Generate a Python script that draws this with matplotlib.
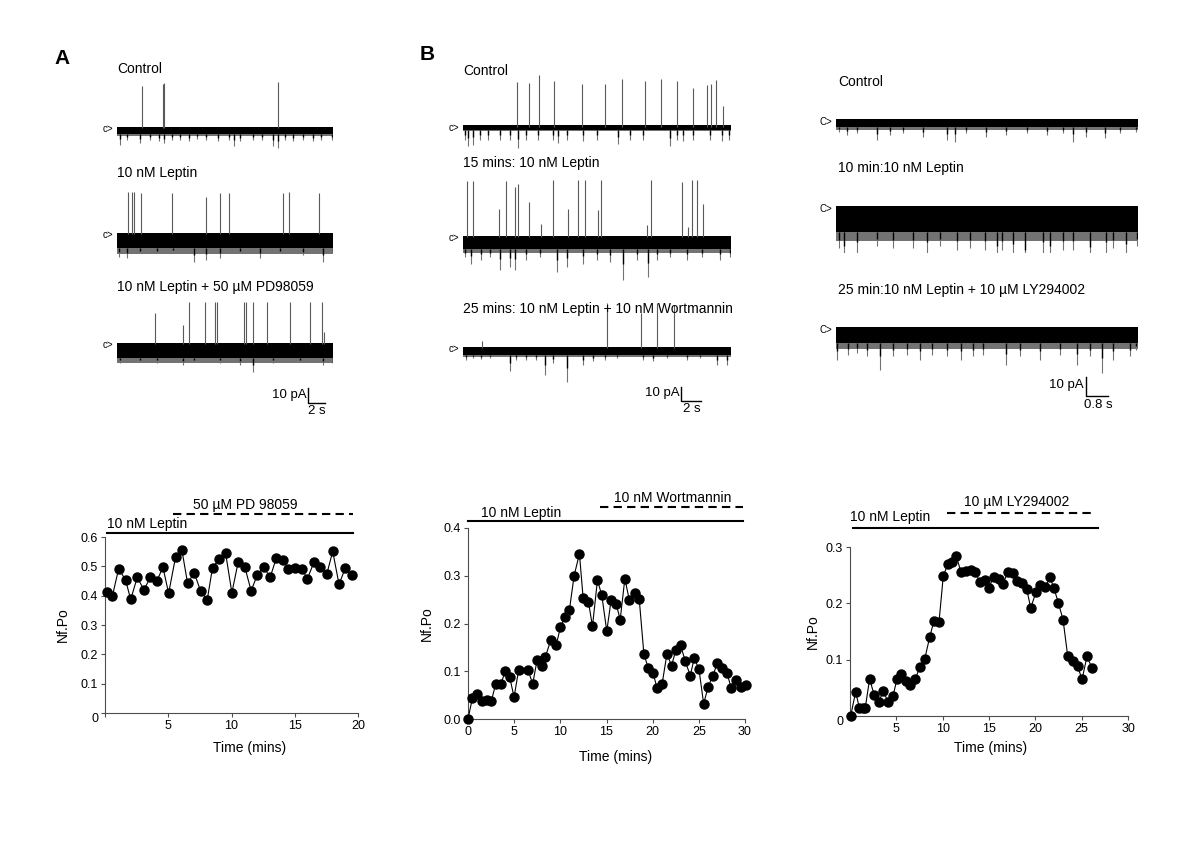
import matplotlib
matplotlib.use("Agg")
import matplotlib.pyplot as plt

plt.rcParams['font.family'] = ['Liberation Sans', 'DejaVu Sans']

W, H = 1200, 849

# ---------------- Nf.Po time courses ----------------
pd_time = [0.13, 0.58, 1.08, 1.63, 2.03, 2.55, 3.08, 3.58, 4.10, 4.58, 5.03, 5.58, 6.08, 6.53,
           7.05, 7.55, 8.08, 8.50, 9.03, 9.53, 10.03, 10.53, 11.05, 11.55, 12.03, 12.53, 13.05,
           13.55, 14.05, 14.50, 15.00, 15.55, 16.00, 16.53, 17.03, 17.53, 18.00, 18.50, 19.00, 19.53]
pd_nfpo = [0.413, 0.398, 0.492, 0.453, 0.387, 0.462, 0.420, 0.462, 0.450, 0.497, 0.408, 0.532,
           0.555, 0.442, 0.478, 0.417, 0.385, 0.496, 0.524, 0.546, 0.410, 0.515, 0.498, 0.417,
           0.469, 0.499, 0.462, 0.529, 0.521, 0.491, 0.495, 0.491, 0.458, 0.515, 0.499, 0.473,
           0.551, 0.439, 0.494, 0.469]

wort_time = [0.0, 0.47, 1.01, 1.52, 2.02, 2.53, 3.00, 3.54, 4.05, 4.52, 4.99, 5.49, 6.50, 7.01,
             7.48, 8.02, 8.38, 8.96, 9.54, 10.01, 10.48, 10.99, 11.49, 12.07, 12.47, 13.05, 13.48,
             14.02, 14.49, 15.03, 15.50, 16.05, 16.48, 16.99, 17.46, 18.07, 18.54, 19.05, 19.52,
             20.06, 20.46, 21.03, 21.54, 22.05, 22.52, 23.02, 23.53, 24.07, 24.50, 25.01, 25.52,
             26.02, 26.53, 27.00, 27.50, 28.05, 28.52, 29.02, 29.53, 30.07]
wort_nfpo = [0.0, 0.043, 0.053, 0.038, 0.040, 0.038, 0.073, 0.073, 0.100, 0.087, 0.046, 0.103,
             0.102, 0.074, 0.123, 0.112, 0.130, 0.165, 0.154, 0.192, 0.213, 0.229, 0.300, 0.346,
             0.253, 0.245, 0.194, 0.291, 0.259, 0.184, 0.249, 0.241, 0.208, 0.294, 0.250, 0.264,
             0.252, 0.136, 0.107, 0.096, 0.065, 0.074, 0.136, 0.112, 0.145, 0.155, 0.121, 0.091,
             0.127, 0.105, 0.032, 0.068, 0.091, 0.117, 0.106, 0.096, 0.064, 0.082, 0.068, 0.072]

ly_time = [0.07, 0.61, 1.00, 1.40, 1.65, 2.12, 2.59, 3.09, 3.60, 4.14, 4.64, 5.07, 5.54, 6.01,
           6.51, 7.05, 7.55, 8.06, 8.60, 9.06, 9.60, 10.07, 10.58, 11.04, 11.47, 11.98, 12.55,
           13.09, 13.53, 14.00, 14.60, 15.00, 15.50, 16.04, 16.51, 17.05, 17.55, 18.02, 18.56,
           19.06, 19.50, 20.10, 20.54, 21.08, 21.58, 22.01, 22.48, 22.99, 23.49, 24.03, 24.57,
           25.04, 25.58, 26.08]
ly_nfpo = [0.0, 0.043, 0.015, 0.015, 0.015, 0.066, 0.038, 0.025, 0.044, 0.024, 0.035, 0.066,
           0.074, 0.063, 0.055, 0.066, 0.087, 0.101, 0.140, 0.169, 0.166, 0.249, 0.270, 0.274,
           0.284, 0.255, 0.258, 0.259, 0.255, 0.238, 0.241, 0.228, 0.247, 0.243, 0.235, 0.256,
           0.254, 0.240, 0.236, 0.226, 0.192, 0.221, 0.233, 0.229, 0.246, 0.227, 0.201, 0.171,
           0.107, 0.097, 0.088, 0.065, 0.106, 0.086]

# ---------------- single channel traces (s, pA) ----------------
# panel A, 25.35 s sweeps
a_ctrl_up_t = [2.9, 5.4, 5.5, 18.9]
a_ctrl_up_a = [27.8, 29.3, 30.0, 30.7]
a_ctrl_dn_t = [0.3, 1.2, 2.7, 3.9, 4.9, 5.5, 6.4, 7.4, 8.4, 9.4, 10.5, 11.9, 13.1, 13.7, 14.4,
               16.0, 17.0, 18.3, 18.9, 19.7, 20.7, 21.8, 23.0, 24.0, 25.2]
a_ctrl_dn_a = [-11.1, -7.8, -10.0, -7.8, -8.9, -10.0, -7.8, -7.8, -8.9, -7.3, -7.8, -8.9, -7.8,
               -11.8, -8.9, -7.8, -7.8, -11.8, -13.3, -7.8, -8.9, -7.8, -8.9, -7.8, -7.8]
a_ctrl_band = (0.7, -4.0)

a_lep_up_t = [1.3, 1.8, 2.0, 2.8, 6.4, 10.5, 12.1, 13.2, 19.5, 20.2, 23.7]
a_lep_up_a = [28.2, 28.2, 28.2, 27.1, 27.5, 24.9, 27.5, 27.5, 27.5, 28.2, 27.5]
a_lep_dn_t = [0.2, 1.2, 2.7, 4.7, 6.6, 9.0, 10.5, 12.1, 14.4, 16.8, 19.1, 21.8, 24.2, 25.3]
a_lep_dn_a = [-15.1, -16.2, -12.9, -12.9, -11.8, -18.4, -17.3, -16.2, -12.9, -16.2, -12.9,
              -14.0, -18.4, -12.9]
a_lep_band = (0.9, -9.5)

a_pd_up_t = [4.5, 7.7, 8.4, 10.3, 11.5, 11.7, 14.9, 15.1, 16.0, 17.6, 20.3, 22.6, 24.1, 24.3]
a_pd_up_a = [20.4, 12.7, 28.2, 28.2, 28.2, 28.2, 28.2, 28.2, 28.2, 28.2, 28.2, 28.2, 28.2, 8.2]
a_pd_dn_t = [0.4, 2.7, 4.7, 7.8, 9.0, 12.1, 14.4, 16.0, 18.3, 21.5, 24.2, 25.3]
a_pd_dn_a = [-12.9, -11.8, -12.9, -14.0, -11.8, -12.4, -14.0, -18.4, -12.9, -11.8, -14.0, -16.2]
a_pd_band = (0.4, -9.0)

# panel B, 26.8 s sweeps (wortmannin)
b_ctrl_up_t = [5.4, 6.6, 7.6, 9.1, 11.9, 14.2, 15.9, 18.2, 19.8, 21.4, 23.0, 24.4, 24.8, 25.3, 26.0]
b_ctrl_up_a = [32.1, 31.4, 37.4, 32.6, 30.7, 30.7, 34.3, 32.6, 34.3, 32.6, 27.8, 30.2, 30.7,
               33.8, 14.8]
b_ctrl_dn_t = [0.2, 0.5, 1.0, 1.7, 2.5, 3.7, 4.7, 5.5, 6.3, 7.5, 9.0, 9.5, 10.4, 12.0, 13.4,
               15.5, 16.7, 18.0, 20.7, 21.4, 22.0, 23.0, 24.7, 25.9, 26.6]
b_ctrl_dn_a = [-9.0, -13.8, -12.6, -9.0, -9.0, -9.0, -9.0, -15.0, -9.0, -9.0, -9.0, -11.4,
               -9.0, -10.2, -9.0, -11.9, -9.0, -9.0, -13.8, -9.0, -10.2, -9.0, -9.0, -10.2, -9.0]
b_ctrl_band = (1.2, -1.9)

b_lep_up_t = [0.4, 1.0, 3.6, 4.3, 5.2, 5.5, 6.6, 7.8, 9.0, 10.5, 11.5, 12.2, 13.5, 13.8, 18.4,
              18.8, 21.9, 22.5, 22.9, 23.4, 24.0]
b_lep_up_a = [40.0, 40.0, 19.8, 40.0, 35.7, 38.1, 25.0, 9.5, 40.5, 20.2, 40.9, 40.9, 19.0, 40.9,
              8.3, 40.9, 39.3, 7.1, 40.9, 40.5, 23.8]
b_lep_dn_t = [0.2, 0.8, 1.8, 2.7, 3.7, 4.7, 5.2, 6.3, 7.7, 9.4, 10.4, 12.0, 13.4, 14.7, 16.0,
              17.4, 18.5, 19.4, 20.7, 22.4, 23.9, 25.7, 26.7]
b_lep_dn_a = [-14.3, -19.0, -16.7, -14.3, -23.8, -21.4, -23.8, -16.7, -14.3, -25.0, -21.4, -19.0,
              -16.7, -17.9, -30.5, -16.7, -28.6, -16.7, -14.3, -16.7, -14.3, -16.7, -14.3]
b_lep_band = (0.5, -8.3)

b_wort_up_t = [1.9, 14.4, 17.8, 19.4, 21.1]
b_wort_up_a = [5.2, 32.1, 25.0, 32.1, 31.0]
b_wort_dn_t = [0.3, 1.0, 1.8, 2.7, 4.7, 5.3, 6.3, 7.3, 8.2, 9.0, 10.4, 12.0, 13.0, 14.2, 15.4,
               18.0, 19.0, 20.4, 22.4, 23.7, 25.4, 26.4]
b_wort_dn_a = [-8.3, -7.1, -7.9, -7.1, -16.7, -8.3, -8.3, -8.3, -19.0, -10.7, -24.3, -11.9,
               -9.5, -8.3, -7.1, -8.3, -9.5, -7.1, -8.3, -7.1, -11.9, -11.9]
b_wort_band = (0.7, -4.8)

# panel B right, 11 s sweeps (LY294002)
c_ctrl_dn_t = [0.1, 0.4, 0.75, 1.48, 1.97, 2.45, 3.18, 4.03, 4.33, 4.75, 5.48, 6.21, 6.94, 7.67,
               8.27, 8.64, 9.12, 9.79, 10.33, 10.94]
c_ctrl_dn_a = [-5.6, -7.4, -6.5, -10.0, -7.4, -6.5, -8.2, -10.0, -10.9, -6.5, -8.2, -7.4, -6.5,
               -7.4, -6.5, -10.9, -8.2, -9.1, -6.5, -5.6]
c_ctrl_band = (1.2, -3.3)

c_lep_dn_t = [0.1, 0.3, 0.75, 1.48, 2.09, 2.81, 3.3, 3.78, 4.39, 4.88, 5.42, 5.85, 6.03, 6.45,
              6.9, 7.54, 7.79, 8.27, 8.64, 9.24, 9.85, 10.09, 10.58, 10.97]
c_lep_dn_a = [-21.0, -27.1, -23.6, -20.1, -21.0, -21.0, -23.6, -20.1, -21.9, -21.0, -21.9, -28.0,
              -21.9, -25.4, -31.5, -23.6, -27.1, -21.9, -21.9, -28.9, -23.6, -21.0, -25.4, -20.1]
c_lep_band = (0.9, -12.5)

c_ly_dn_t = [0.02, 0.45, 0.75, 1.12, 1.6, 2.09, 2.57, 3.06, 3.48, 4.03, 4.57, 5.0, 5.36, 6.21,
             6.7, 7.42, 8.15, 8.76, 9.24, 9.7, 10.09, 10.7, 10.94]
c_ly_dn_a = [-16.1, -13.5, -12.6, -14.4, -21.4, -14.4, -13.5, -16.1, -13.5, -14.4, -16.1, -14.4,
             -13.5, -18.7, -14.4, -16.1, -13.5, -18.7, -14.4, -23.1, -16.1, -14.4, -10.9]
c_ly_band = (1.0, -7.5)

fig = plt.figure(figsize=(12, 8.49), dpi=100)


def px_axes(left, top, right, bottom):
    return fig.add_axes([left / W, 1 - bottom / H, (right - left) / W, (bottom - top) / H])


def ftext(x, y, s, **kw):
    fig.text(x / W, 1 - y / H, s, **kw)


def draw_trace(x0, x1, base, dur, pa_per_px, up_t, up_a, dn_t, dn_a, band, cmark='c>'):
    ax = px_axes(x0, base - 60, x1, base + 45)
    ax.set_xlim(0, dur)
    ax.set_ylim(-45 * pa_per_px, 60 * pa_per_px)
    ax.axis('off')
    # ragged grey fringe under the dense noise band
    ax.fill_between([0, dur], band[1] * 1.4, band[1], color='0.45', lw=0)
    ax.vlines(dn_t, band[1], dn_a, color='0.45', lw=0.8)
    ax.vlines(dn_t, band[1], [band[1] + (a - band[1]) * 0.5 for a in dn_a], color='black', lw=1.0)
    ax.fill_between([0, dur], band[1], band[0], color='black', lw=0)
    if up_t:
        ax.vlines(up_t, 0, up_a, color='0.35', lw=0.8)
    ftext(x0 - 4, base + 1, cmark, ha='right', va='center', fontsize=7)
    return ax


def scale_bar(ax, t0, y0, dt, dy, tlabel):
    ax.plot([t0, t0, t0 + dt], [y0 + dy, y0, y0], color='black', lw=1.0, clip_on=False)
    ax.text(t0 - dt * 0.08, y0 + dy * 0.55, '10 pA', ha='right', va='center', fontsize=9.5)
    ax.text(t0 + dt * 0.55, y0 - dy * 0.15, tlabel, ha='center', va='top', fontsize=9.5)


# ---- panel A traces ----
pa_a = 10 / 15.0
draw_trace(117, 333, 128, 25.35, pa_a, a_ctrl_up_t, a_ctrl_up_a, a_ctrl_dn_t, a_ctrl_dn_a, a_ctrl_band)
draw_trace(117, 333, 234, 25.35, pa_a, a_lep_up_t, a_lep_up_a, a_lep_dn_t, a_lep_dn_a, a_lep_band)
ax_a3 = draw_trace(117, 333, 344, 25.35, pa_a, a_pd_up_t, a_pd_up_a, a_pd_dn_t, a_pd_dn_a, a_pd_band)
scale_bar(ax_a3, 22.4, -39.3, 2, 10, '2 s')
ftext(117, 69, 'Control', ha='left', va='center', fontsize=10)
ftext(117, 173, '10 nM Leptin', ha='left', va='center', fontsize=10)
ftext(117, 287, '10 nM Leptin + 50 \u00b5M PD98059', ha='left', va='center', fontsize=10)
ftext(62, 58, 'A', ha='center', va='center', fontsize=15, fontweight='bold')

# ---- panel B traces (wortmannin) ----
pa_b = 10 / 14.0
draw_trace(463, 731, 127, 26.8, pa_b, b_ctrl_up_t, b_ctrl_up_a, b_ctrl_dn_t, b_ctrl_dn_a, b_ctrl_band)
draw_trace(463, 731, 237, 26.8, pa_b, b_lep_up_t, b_lep_up_a, b_lep_dn_t, b_lep_dn_a, b_lep_band)
ax_b3 = draw_trace(463, 731, 348, 26.8, pa_b, b_wort_up_t, b_wort_up_a, b_wort_dn_t, b_wort_dn_a, b_wort_band)
scale_bar(ax_b3, 21.8, -37.8, 2, 10, '2 s')
ftext(463, 71, 'Control', ha='left', va='center', fontsize=10)
ftext(463, 163, '15 mins: 10 nM Leptin', ha='left', va='center', fontsize=10)
ftext(463, 309, '25 mins: 10 nM Leptin + 10 nM Wortmannin', ha='left', va='center', fontsize=10)
ftext(427, 55, 'B', ha='center', va='center', fontsize=15, fontweight='bold')

# ---- panel B right traces (LY294002) ----
pa_c = 10 / 19.0
draw_trace(836, 1138, 121, 11.0, pa_c, [], [], c_ctrl_dn_t, c_ctrl_dn_a, c_ctrl_band, 'C>')
draw_trace(836, 1138, 208, 11.0, pa_c, [], [], c_lep_dn_t, c_lep_dn_a, c_lep_band, 'C>')
ax_c3 = draw_trace(836, 1138, 329, 11.0, pa_c, [], [], c_ly_dn_t, c_ly_dn_a, c_ly_band, 'C>')
scale_bar(ax_c3, 9.1, -35.2, 0.8, 10, '0.8 s')
ftext(838, 82, 'Control', ha='left', va='center', fontsize=10)
ftext(838, 168, '10 min:10 nM Leptin', ha='left', va='center', fontsize=10)
ftext(838, 290, '25 min:10 nM Leptin + 10 \u00b5M LY294002', ha='left', va='center', fontsize=10)


# ---- Nf.Po summary plots ----
def summary(ax, t, v, xmax, ymax, yticks, ylabels, xticks, xlabels):
    ax.plot(t, v, color='black', lw=0.8, marker='o', ms=6.5, mfc='black', mec='black',
            clip_on=False, zorder=3)
    ax.set_xlim(0, xmax)
    ax.set_ylim(0, ymax)
    for s in ['top', 'right']:
        ax.spines[s].set_visible(False)
    for s in ['left', 'bottom']:
        ax.spines[s].set_color('0.3')
        ax.spines[s].set_linewidth(0.8)
    ax.set_yticks(yticks)
    ax.set_yticklabels(ylabels)
    ax.set_xticks(xticks)
    ax.set_xticklabels(xlabels)
    ax.tick_params(length=3, width=0.8, color='0.3', labelsize=9, pad=2)
    ax.set_ylabel('Nf.Po', fontsize=10)
    ax.set_xlabel('Time (mins)', fontsize=10)
    ax.yaxis.label.set_va('center')
    ax.xaxis.label.set_va('center')


def drug_bars(ax, solid, dashed, lep_text, drug_text):
    ax.plot(solid[0], [solid[1]] * 2, color='black', lw=1.5, clip_on=False)
    ax.plot(dashed[0], [dashed[1]] * 2, color='black', lw=1.5, dashes=(4, 2.5), clip_on=False)
    ax.text(lep_text[0], lep_text[1], '10 nM Leptin', ha='left', va='center', fontsize=10)
    ax.text(drug_text[0], drug_text[1], drug_text[2], ha='center', va='center', fontsize=10)


axA = px_axes(105, 537, 358, 713)
summary(axA, pd_time, pd_nfpo, 20, 0.6, [0, 0.1, 0.2, 0.3, 0.4, 0.5, 0.6],
        ['0', '0.1', '0.2', '0.3', '0.4', '0.5', '0.6'], [0, 5, 10, 15, 20], ['', '5', '10', '15', '20'])
axA.get_yticklabels()[0].set_va('top')
axA.yaxis.set_label_coords(-0.166, 0.5)
axA.xaxis.set_label_coords(0.573, -0.199)
drug_bars(axA, ([0.16, 19.6], 0.614), ([5.4, 19.6], 0.679), (0.16, 0.644),
          (11.1, 0.709, '50 \u00b5M PD 98059'))

axB = px_axes(468, 528, 745, 719)
summary(axB, wort_time, wort_nfpo, 30, 0.4, [0, 0.1, 0.2, 0.3, 0.4],
        ['0.0', '0.1', '0.2', '0.3', '0.4'], [0, 5, 10, 15, 20, 25, 30],
        ['0', '5', '10', '15', '20', '25', '30'])
axB.yaxis.set_label_coords(-0.148, 0.5)
axB.xaxis.set_label_coords(0.531, -0.199)
drug_bars(axB, ([0.0, 29.8], 0.414), ([14.3, 29.8], 0.445), (1.4, 0.432),
          (22.2, 0.463, '10 nM Wortmannin'))

axC = px_axes(850, 547, 1128, 716)
summary(axC, ly_time, ly_nfpo, 30, 0.3, [0, 0.1, 0.2, 0.3], ['0', '0.1', '0.2', '0.3'],
        [0, 5, 10, 15, 20, 25, 30], ['', '5', '10', '15', '20', '25', '30'])
axC.get_yticklabels()[0].set_va('top')
axC.yaxis.set_label_coords(-0.133, 0.5)
axC.xaxis.set_label_coords(0.504, -0.189)
drug_bars(axC, ([0.3, 26.8], 0.333), ([10.45, 26.4], 0.360), (0.05, 0.353),
          (18.0, 0.380, '10 \u00b5M LY294002'))

fig.savefig('out.png', dpi=100, facecolor='white')
